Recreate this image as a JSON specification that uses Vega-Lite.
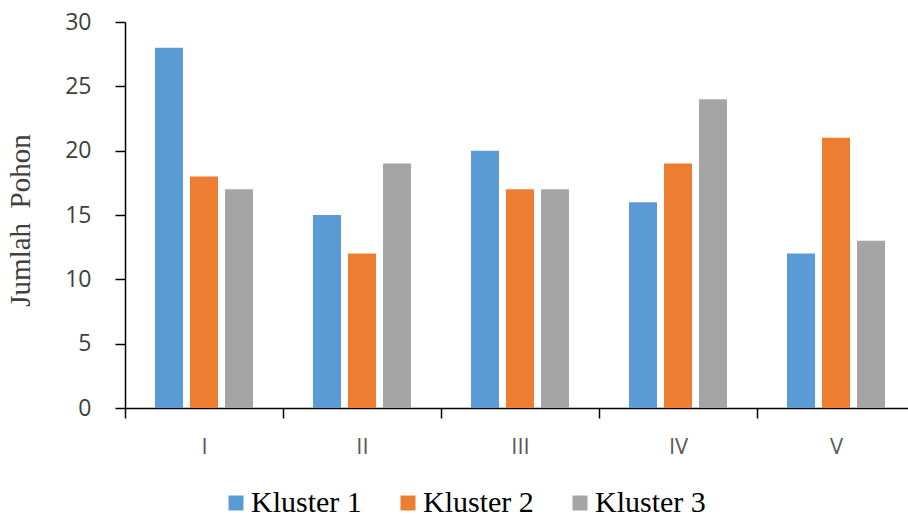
{
  "$schema": "https://vega.github.io/schema/vega-lite/v6.json",
  "width": 790,
  "height": 386,
  "autosize": {"type": "none"},
  "padding": {"left": 125, "top": 22, "right": 0, "bottom": 111},
  "background": "white",
  "data": {
    "values": [
      {"kelompok": "I", "kluster": "Kluster 1", "jumlah": 28},
      {"kelompok": "I", "kluster": "Kluster 2", "jumlah": 18},
      {"kelompok": "I", "kluster": "Kluster 3", "jumlah": 17},
      {"kelompok": "II", "kluster": "Kluster 1", "jumlah": 15},
      {"kelompok": "II", "kluster": "Kluster 2", "jumlah": 12},
      {"kelompok": "II", "kluster": "Kluster 3", "jumlah": 19},
      {"kelompok": "III", "kluster": "Kluster 1", "jumlah": 20},
      {"kelompok": "III", "kluster": "Kluster 2", "jumlah": 17},
      {"kelompok": "III", "kluster": "Kluster 3", "jumlah": 17},
      {"kelompok": "IV", "kluster": "Kluster 1", "jumlah": 16},
      {"kelompok": "IV", "kluster": "Kluster 2", "jumlah": 19},
      {"kelompok": "IV", "kluster": "Kluster 3", "jumlah": 24},
      {"kelompok": "V", "kluster": "Kluster 1", "jumlah": 12},
      {"kelompok": "V", "kluster": "Kluster 2", "jumlah": 21},
      {"kelompok": "V", "kluster": "Kluster 3", "jumlah": 13}
    ]
  },
  "mark": {"type": "bar"},
  "encoding": {
    "x": {
      "field": "kelompok",
      "type": "nominal",
      "sort": ["I", "II", "III", "IV", "V"],
      "scale": {"paddingInner": 0, "paddingOuter": 0},
      "axis": {
        "title": null,
        "labelAngle": 0,
        "tickBand": "extent",
        "tickSize": 10,
        "tickWidth": 1.5,
        "tickColor": "#000000",
        "domainColor": "#000000",
        "domainWidth": 1.5,
        "labelFont": "Open Sans",
        "labelFontSize": 22,
        "labelColor": "#595959",
        "labelPadding": 18
      }
    },
    "xOffset": {
      "field": "kluster",
      "type": "nominal",
      "scale": {"paddingInner": 0.2, "paddingOuter": 0.857}
    },
    "y": {
      "field": "jumlah",
      "type": "quantitative",
      "scale": {"domain": [0, 30], "nice": false},
      "axis": {
        "title": "Jumlah\u00a0\u00a0Pohon",
        "titleFont": "Liberation Serif",
        "titleFontSize": 29,
        "titleFontWeight": "normal",
        "titleColor": "#404040",
        "titleX": -90,
        "titleY": 198,
        "titleAlign": "center",
        "values": [0, 5, 10, 15, 20, 25, 30],
        "grid": false,
        "tickSize": 10,
        "tickWidth": 1.5,
        "tickColor": "#000000",
        "domainColor": "#000000",
        "domainWidth": 1.5,
        "labelFont": "Open Sans",
        "labelFontSize": 23,
        "labelColor": "#404040",
        "labelPadding": 24
      }
    },
    "color": {
      "field": "kluster",
      "type": "nominal",
      "scale": {
        "domain": ["Kluster 1", "Kluster 2", "Kluster 3"],
        "range": ["#5B9BD5", "#ED7D31", "#A5A5A5"]
      },
      "legend": {
        "title": null,
        "orient": "none",
        "direction": "horizontal",
        "legendX": 96,
        "legendY": 466,
        "padding": 0,
        "symbolType": "square",
        "symbolSize": 225,
        "symbolStrokeWidth": 0,
        "labelFont": "Liberation Serif",
        "labelFontSize": 30,
        "labelColor": "#000000",
        "labelOffset": 0,
        "columnPadding": 31
      }
    }
  },
  "config": {
    "view": {"stroke": null}
  }
}
